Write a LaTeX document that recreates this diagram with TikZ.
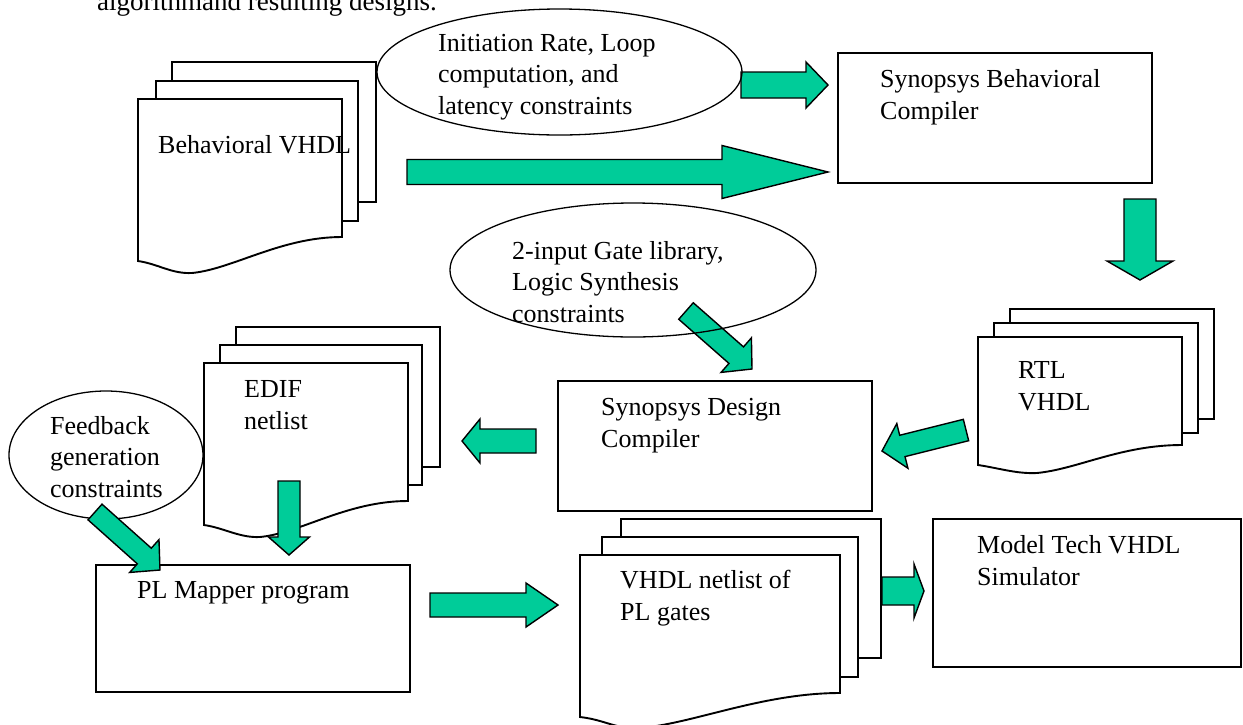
\documentclass[tikz,border=0pt]{standalone}
\usepackage{fontspec}
\setmainfont{Liberation Serif}
\usetikzlibrary{calc,shapes.geometric}
\definecolor{arrowgreen}{RGB}{0,204,153}
\tikzset{
  sheet/.style={draw=black, fill=white, line width=1.9pt, line join=miter},
  box/.style={draw=black, line width=1.9pt, rectangle, inner sep=0pt, outer sep=0pt},
  oval/.style={draw=black, line width=1.3pt, ellipse, inner sep=0pt, outer sep=0pt},
  barrow/.style={draw=black, fill=arrowgreen, line width=1.4pt, line join=miter},
  lbl/.style={anchor=base west, inner sep=0pt, align=left, font=\fontsize{26}{31.5}\selectfont},
}
% plain back sheet of a document stack
\newcommand\sheetrect[4]{\draw[sheet] (#1,#2) rectangle (#3,#4);}
% front sheet: x1,y1,x2,yLeftBottom,xDip,yDip,yRightBottom
\newcommand\frontsheet[7]{%
  \draw[sheet] (#1,#2) -- (#3,#2) -- (#3,#7)
    .. controls ({#3-0.3*(#3-#1)},#7) and ({#5+0.2*(#3-#1)},{#6-4}) .. (#5,#6)
    .. controls ({#5-0.1*(#3-#1)},{#6+1}) and ({#1+0.1*(#3-#1)},{#4+3}) .. (#1,#4) -- cycle;}
% block arrow: tail, tip, body half width, head half width, head length
\newcommand\blockarrow[5]{%
  \coordinate (ba-h) at ($(#2)!#5!(#1)$);
  \draw[barrow] ($(#1)!#3!90:(#2)$) -- ($(ba-h)!#3!90:(#2)$) -- ($(ba-h)!#4!90:(#2)$)
    -- (#2) -- ($(ba-h)!#4!-90:(#2)$) -- ($(ba-h)!#3!-90:(#2)$) -- ($(#1)!#3!-90:(#2)$) -- cycle;}
\begin{document}
\begin{tikzpicture}[x=1pt,y=-1pt]
\useasboundingbox (0,0) rectangle (1243,724);
\fill[white] (0,0) rectangle (1243,724);

% caption fragment at the top
\node[lbl, font=\fontsize{27}{32}\selectfont] (caption) at (97,10) {algorithmand resulting designs.};

% document stacks
\sheetrect{172}{62}{376}{202}
\sheetrect{156}{81}{358}{221}
\frontsheet{138}{99}{342}{261}{192}{273}{237}

\sheetrect{1010}{309}{1214}{419}
\sheetrect{994}{323}{1198}{433}
\frontsheet{978}{337}{1182}{465}{1037}{473}{445}

\sheetrect{236}{327}{440}{467}
\sheetrect{220}{345}{422}{485}
\frontsheet{204}{363}{408}{525}{260}{537}{501}

\sheetrect{621}{519}{881}{658}
\sheetrect{602}{537}{858}{677}
\frontsheet{580}{555}{840}{717}{640}{728}{693}

% process boxes
\node[box, minimum width=314pt, minimum height=130pt] (sbc) at (995,118) {};
\node[box, minimum width=314pt, minimum height=130pt] (sdc) at (715,446) {};
\node[box, minimum width=314pt, minimum height=127pt] (plm) at (253,628.5) {};
\node[box, minimum width=308pt, minimum height=148pt] (mt) at (1087,593) {};

% feedback ellipse (under its arrow)
\node[oval, minimum width=194pt, minimum height=128pt] (efb) at (106,455) {};

% arrow end points
\coordinate (a1s) at (741,85);   \coordinate (a1e) at (828,85);
\coordinate (a2s) at (407,172);  \coordinate (a2e) at (828,172);
\coordinate (a3s) at (1140,199); \coordinate (a3e) at (1140,280);
\coordinate (a4s) at (966,430);  \coordinate (a4e) at (882,451);
\coordinate (a5s) at (686,311);  \coordinate (a5e) at (752,369);
\coordinate (a6s) at (289,481);  \coordinate (a6e) at (289,555);
\coordinate (a7s) at (536,441);  \coordinate (a7e) at (462,441);
\coordinate (a8s) at (95,512);   \coordinate (a8e) at (160,570);
\coordinate (a9s) at (430,605);  \coordinate (a9e) at (558,605);
\coordinate (a10s) at (882,591); \coordinate (a10e) at (924,591);

\blockarrow{a1s}{a1e}{13pt}{23pt}{22pt}
\blockarrow{a2s}{a2e}{12.5pt}{26.5pt}{106pt}
\blockarrow{a3s}{a3e}{16pt}{33pt}{19pt}
\blockarrow{a4s}{a4e}{11pt}{23pt}{21pt}
\blockarrow{a5s}{a5e}{11pt}{23pt}{21pt}
\blockarrow{a6s}{a6e}{11pt}{20.5pt}{18pt}
\blockarrow{a7s}{a7e}{12pt}{22pt}{18pt}
\blockarrow{a8s}{a8e}{10.5pt}{22pt}{21pt}
\blockarrow{a9s}{a9e}{12pt}{22pt}{32pt}
\blockarrow{a10s}{a10e}{14pt}{27pt}{10pt}

% constraint ellipses
\node[oval, minimum width=365pt, minimum height=126pt] (einit) at (559.5,72) {};
\node[oval, minimum width=366pt, minimum height=134pt] (egate) at (633,270) {};

% labels (anchor = baseline of the last line)
\node[lbl] (t-bvhdl) at (158,153) {Behavioral VHDL};
\node[lbl] (t-init) at (438,114) {Initiation Rate, Loop\\computation, and\\latency constraints};
\node[lbl] (t-sbc) at (880,119) {Synopsys Behavioral\\Compiler};
\node[lbl] (t-gate) at (512,322) {2-input Gate library,\\Logic Synthesis\\constraints};
\node[lbl] (t-rtl) at (1018,410) {RTL\\VHDL};
\node[lbl] (t-sdc) at (601,447) {Synopsys Design\\Compiler};
\node[lbl] (t-edif) at (244,429) {EDIF\\netlist};
\node[lbl] (t-fb) at (50,497) {Feedback\\generation\\constraints};
\node[lbl] (t-plm) at (137,598) {PL Mapper program};
\node[lbl] (t-vnet) at (620,620) {VHDL netlist of\\PL gates};
\node[lbl] (t-mt) at (977,585) {Model Tech VHDL\\Simulator};
\end{tikzpicture}
\end{document}
